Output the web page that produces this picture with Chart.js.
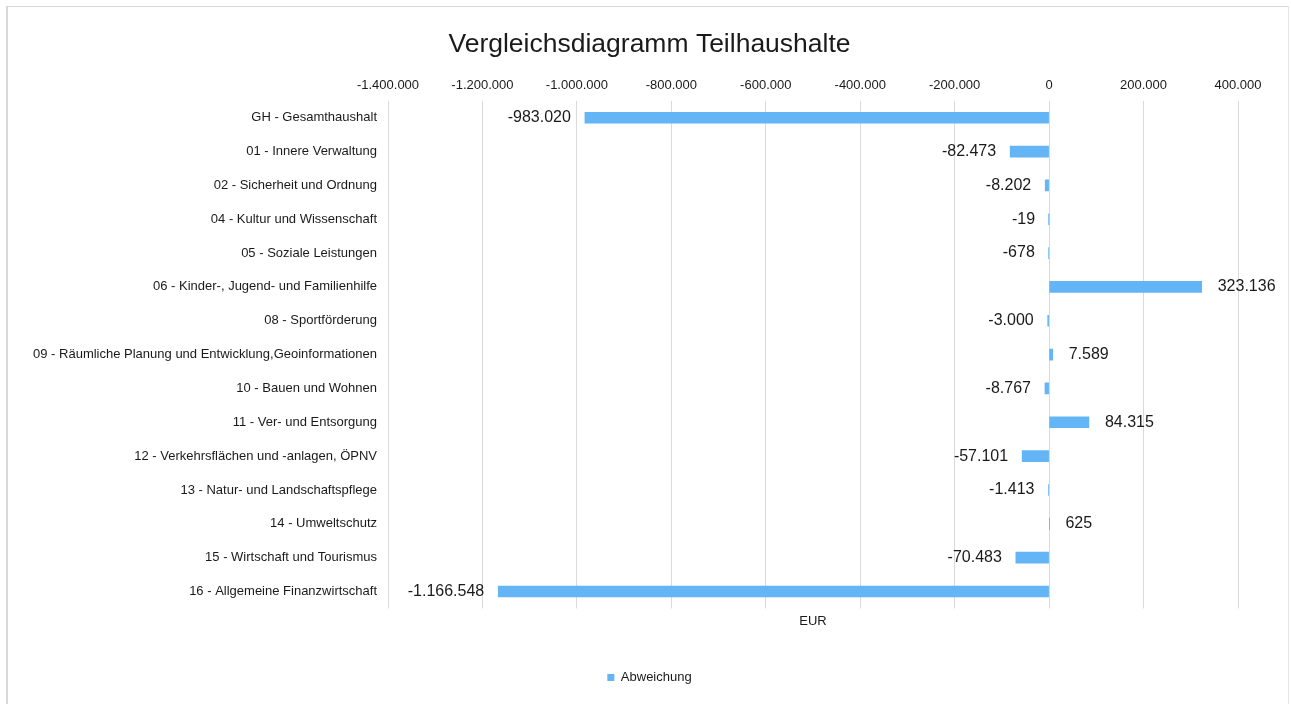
<!DOCTYPE html>
<html>
<head>
<meta charset="utf-8">
<script src="https://cdn.jsdelivr.net/npm/chart.js@4/dist/chart.umd.min.js"></script>
<style>
  html, body { margin: 0; padding: 0; background: #fff; }
  #wrap { position: absolute; left: 0; top: 0; width: 1291px; height: 704px; }
  #frame { position: absolute; left: 6px; top: 6px; width: 1283px; height: 705px;
           border-left: 2px solid #d9d9d9; border-top: 1px solid #d9d9d9; border-right: 1px solid #e6e6e6; box-sizing: border-box; }
  canvas { position: absolute; left: 0; top: 0; }
</style>
</head>
<body>
<div id="wrap">
  <div id="frame"></div>
  <canvas id="c" width="1291" height="704"></canvas>
</div>
<script>
const categories = [
  "GH - Gesamthaushalt",
  "01 - Innere Verwaltung",
  "02 - Sicherheit und Ordnung",
  "04 - Kultur und Wissenschaft",
  "05 - Soziale Leistungen",
  "06 - Kinder-, Jugend- und Familienhilfe",
  "08 - Sportförderung",
  "09 - Räumliche Planung und Entwicklung,Geoinformationen",
  "10 - Bauen und Wohnen",
  "11 - Ver- und Entsorgung",
  "12 - Verkehrsflächen und -anlagen, ÖPNV",
  "13 - Natur- und Landschaftspflege",
  "14 - Umweltschutz",
  "15 - Wirtschaft und Tourismus",
  "16 - Allgemeine Finanzwirtschaft"
];
const abweichung = [-983020, -82473, -8202, -19, -678, 323136, -3000, 7589, -8767, 84315, -57101, -1413, 625, -70483, -1166548];
const seriesName = "Abweichung";
const chartTitle = "Vergleichsdiagramm Teilhaushalte";
const axisTitle = "EUR";
const axisMin = -1400000, axisMax = 400000, axisStep = 200000;

function fmt(v) {
  const neg = v < 0;
  let s = Math.abs(Math.round(v)).toString();
  s = s.replace(/\B(?=(\d{3})+(?!\d))/g, ".");
  return (neg ? "-" : "") + s;
}

const FONT = "'Liberation Sans', Arial, sans-serif";

const labelPlugin = {
  id: 'barLabels',
  afterDatasetsDraw(chart) {
    const ctx = chart.ctx;
    const meta = chart.getDatasetMeta(0);
    ctx.save();
    ctx.font = "16px " + FONT;
    ctx.fillStyle = "#1a1a1a";
    ctx.textBaseline = "middle";
    meta.data.forEach((bar, i) => {
      const v = abweichung[i];
      const txt = fmt(v);
      if (v < 0) {
        ctx.textAlign = "right";
        ctx.fillText(txt, bar.x - 14, bar.y);
      } else {
        ctx.textAlign = "left";
        ctx.fillText(txt, bar.x + 16, bar.y);
      }
    });
    ctx.restore();
  }
};

new Chart(document.getElementById('c'), {
  type: 'bar',
  data: {
    labels: categories,
    datasets: [{
      label: seriesName,
      data: abweichung,
      backgroundColor: '#64b5f6',
      borderWidth: 0,
      barThickness: 11
    }]
  },
  options: {
    indexAxis: 'y',
    responsive: false,
    animation: false,
    devicePixelRatio: 1,
    layout: { padding: { left: 8, right: 0, top: 0, bottom: 10 } },
    plugins: {
      title: {
        display: true,
        text: chartTitle,
        color: '#1a1a1a',
        font: { family: FONT, size: 26.5, weight: 'normal' },
        padding: { top: 29, bottom: 0 }
      },
      legend: {
        display: true,
        position: 'bottom',
        labels: {
          color: '#1a1a1a',
          font: { family: FONT, size: 13 },
          boxWidth: 7,
          boxHeight: 7,
          padding: 10
        }
      },
      tooltip: { enabled: false }
    },
    scales: {
      x: {
        position: 'top',
        min: axisMin,
        max: axisMax,
        ticks: {
          stepSize: axisStep,
          color: '#1a1a1a',
          font: { family: FONT, size: 13 },
          padding: 8,
          maxRotation: 0,
          callback: (v) => fmt(v)
        },
        grid: { color: '#d9d9d9', lineWidth: 1, drawTicks: false },
        border: { display: false },
        afterFit: (s) => { s.height = 40; }
      },
      x2: {
        axis: 'x',
        position: 'bottom',
        min: axisMin,
        max: axisMax,
        ticks: { display: false },
        grid: { display: false, drawTicks: false },
        border: { display: false },
        title: {
          display: true,
          text: axisTitle,
          color: '#1a1a1a',
          font: { family: FONT, size: 13 },
          padding: { top: 5, bottom: 32 }
        }
      },
      y: {
        ticks: {
          color: '#1a1a1a',
          font: { family: FONT, size: 13 },
          padding: 11,
          autoSkip: false
        },
        grid: { display: false, drawTicks: false },
        border: { display: false },
        afterFit: (s) => { s.width = 380; }
      },
      yPad: {
        axis: 'y',
        type: 'linear',
        position: 'right',
        display: true,
        ticks: { display: false },
        grid: { display: false, drawTicks: false },
        border: { display: false },
        afterFit: (s) => { s.width = 53; }
      }
    }
  },
  plugins: [labelPlugin]
});
</script>
</body>
</html>
